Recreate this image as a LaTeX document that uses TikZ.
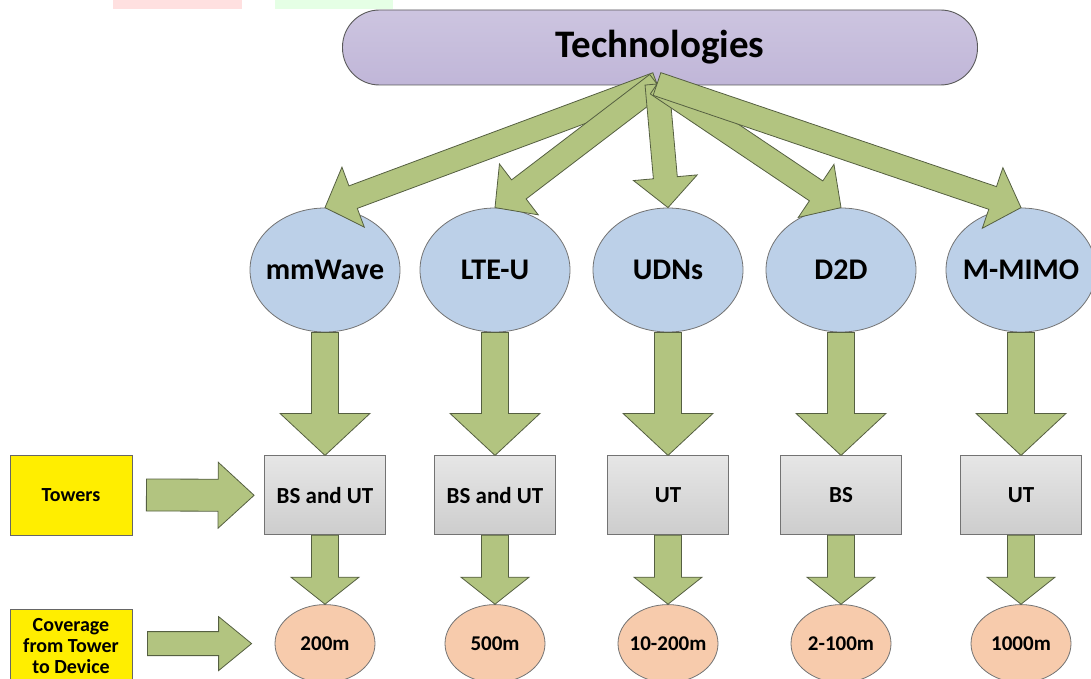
\documentclass[tikz,border=0pt]{standalone}
\usepackage{fontspec}
\setmainfont{Carlito}
\usepackage{xcolor}
\usepackage{tikz}
\usetikzlibrary{positioning}
\usetikzlibrary{shapes.geometric}
\usetikzlibrary{calc}

\definecolor{techpurple}{RGB}{192,182,216}
\definecolor{techblue}{RGB}{188,208,232}
\definecolor{towergray}{RGB}{205,205,205}
\definecolor{rangeorange}{RGB}{247,203,172}
\definecolor{labelyellow}{RGB}{255,238,0}
\definecolor{arrowgreen}{RGB}{178,196,128}
\definecolor{arrowedge}{RGB}{85,95,65}

% fat block arrow: #1 tail, #2 tip, #3 half shaft, #4 half head, #5 head length
\newcommand{\blkarrow}[5]{%
  \coordinate (hb) at ($(#2)!#5!(#1)$);
  \draw[fatarrow] ($(#1)!#3!90:(#2)$) -- ($(hb)!#3!90:(#2)$) -- ($(hb)!#4!90:(#2)$)
    -- (#2) -- ($(hb)!#4!-90:(#2)$) -- ($(hb)!#3!-90:(#2)$) -- ($(#1)!#3!-90:(#2)$) -- cycle;
}

\begin{document}
\begin{tikzpicture}[
  x=1pt, y=-1pt,
  techbox/.style={draw=black!65, line width=0.9pt, rounded corners=37pt, minimum width=635pt, minimum height=75pt, top color=techpurple!80!white, bottom color=techpurple, font=\fontsize{39}{44}\selectfont\bfseries},
  techcircle/.style={ellipse, draw=black!55, line width=0.8pt, minimum width=150pt, minimum height=124pt, inner xsep=-14pt, inner ysep=0pt, fill=techblue, font=\fontsize{30}{34}\selectfont\bfseries},
  towerbox/.style={draw=black!55, line width=0.8pt, minimum width=121pt, minimum height=79pt, inner sep=0pt, top color=towergray!50!white, bottom color=towergray, font=\fontsize{23}{26}\selectfont\bfseries},
  rangecircle/.style={ellipse, draw=black!55, line width=0.8pt, minimum width=100pt, minimum height=78pt, inner xsep=-8pt, inner ysep=0pt, fill=rangeorange, font=\fontsize{21}{24}\selectfont\bfseries},
  rowlabel/.style={draw=black!60, line width=0.8pt, minimum width=122pt, inner sep=0pt, align=center, fill=labelyellow, font=\fontsize{20}{21}\selectfont\bfseries},
  fatarrow/.style={fill=arrowgreen, draw=arrowedge, line width=0.8pt, line join=miter}
]
\useasboundingbox (0,0) rectangle (1091,679);

% page strips cut at the top
\fill[red!12] (113,0) rectangle (242,9);
\fill[green!10] (275,0) rectangle (393,9);

\node[techbox] (tech) at (660,47.5) {Technologies};

\node[techcircle] (mm) at (325,270) {mmWave};
\node[techcircle] (lte) at (495,270) {LTE-U};
\node[techcircle] (udn) at (668,270) {UDNs};
\node[techcircle] (d2d) at (841,270) {D2D};
\node[techcircle] (mim) at (1021,270) {M-MIMO};

\node[towerbox, below=123pt of mm] (bx1) {BS and UT};
\node[towerbox, below=123pt of lte] (bx2) {BS and UT};
\node[towerbox, below=123pt of udn] (bx3) {UT};
\node[towerbox, below=123pt of d2d] (bx4) {BS};
\node[towerbox, below=123pt of mim] (bx5) {UT};

\node[rangecircle, below=69pt of bx1] (rg1) {200m};
\node[rangecircle, below=69pt of bx2] (rg2) {500m};
\node[rangecircle, below=69pt of bx3] (rg3) {10-200m};
\node[rangecircle, below=69pt of bx4] (rg4) {2-100m};
\node[rangecircle, below=69pt of bx5] (rg5) {1000m};

\node[rowlabel, minimum height=80pt] (tow) at (71,495) {Towers};
\node[rowlabel, minimum height=74pt] (cov) at (71,646) {Coverage\\from Tower\\to Device};

% arrows
\coordinate (hub) at (657,84);
\foreach \t in {mm,lte,udn,d2d,mim} {
  \blkarrow{hub}{\t.north}{12pt}{32pt}{30pt}
}
\foreach \t/\b in {mm/bx1,lte/bx2,udn/bx3,d2d/bx4,mim/bx5} {
  \blkarrow{\t.south}{\b.north}{13.5pt}{45pt}{42pt}
}
\foreach \b/\r in {bx1/rg1,bx2/rg2,bx3/rg3,bx4/rg4,bx5/rg5} {
  \blkarrow{\b.south}{\r.north}{13.5pt}{34pt}{27pt}
}
\coordinate (towtail) at ([xshift=14pt]tow.east);
\coordinate (towtip) at ([xshift=-10pt]bx1.west);
\blkarrow{towtail}{towtip}{16pt}{33pt}{36pt}
\coordinate (covtail) at ([xshift=15pt]cov.east |- rg1.west);
\coordinate (covtip) at ([xshift=-23pt]rg1.west);
\blkarrow{covtail}{covtip}{12pt}{27pt}{33pt}

\end{tikzpicture}
\end{document}
